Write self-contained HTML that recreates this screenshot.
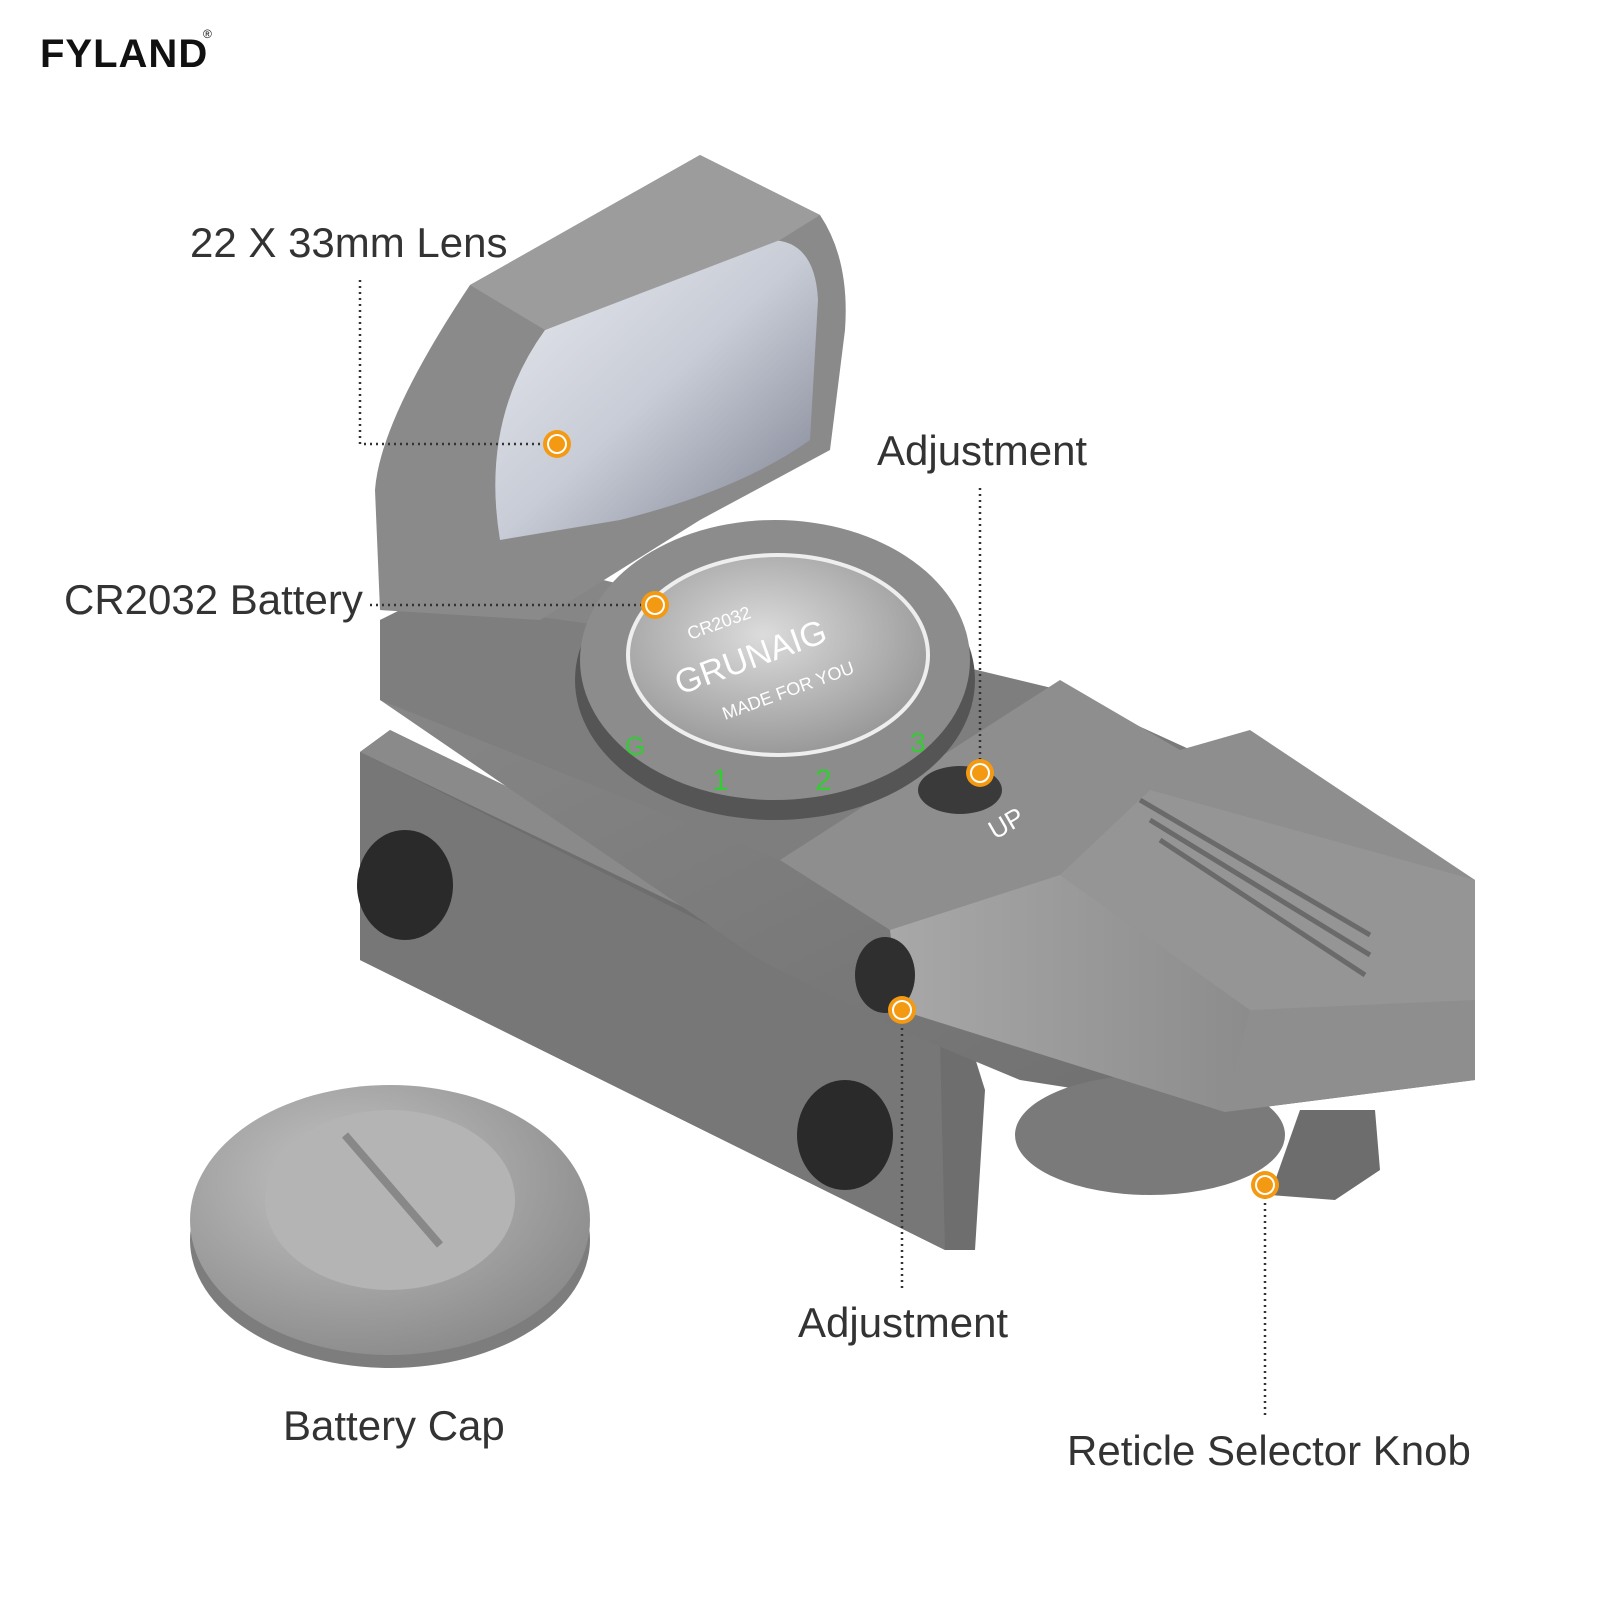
<!DOCTYPE html>
<html><head><meta charset="utf-8"><style>
html,body{margin:0;padding:0;background:#fff}
svg{display:block}
text{font-family:"Liberation Sans",sans-serif}
</style></head><body>
<svg width="1601" height="1601" viewBox="0 0 1601 1601" xmlns="http://www.w3.org/2000/svg">
<defs>
<linearGradient id="g1" x1="0" y1="0" x2="1" y2="1"><stop offset="0" stop-color="#8a8a8a"/><stop offset="1" stop-color="#6c6c6c"/></linearGradient>
<linearGradient id="g2" x1="0" y1="0" x2="1" y2="0"><stop offset="0" stop-color="#a8a8a8"/><stop offset="1" stop-color="#8c8c8c"/></linearGradient>
<radialGradient id="bat" cx="0.45" cy="0.4" r="0.7"><stop offset="0" stop-color="#dcdcdc"/><stop offset="1" stop-color="#8e8e8e"/></radialGradient>
<radialGradient id="cap" cx="0.4" cy="0.35" r="0.7"><stop offset="0" stop-color="#c4c4c4"/><stop offset="1" stop-color="#8a8a8a"/></radialGradient>
<linearGradient id="lens" x1="0" y1="0" x2="1" y2="1"><stop offset="0" stop-color="#e8eaef"/><stop offset="0.5" stop-color="#c8ccd6"/><stop offset="1" stop-color="#7c8090"/></linearGradient>
</defs>
<text x="40" y="67" font-size="40" font-weight="bold" fill="#111" letter-spacing="1">FYLAND</text>
<text x="203" y="38" font-size="12" fill="#111">®</text>

<polygon points="360,752 390,730 960,1010 985,1090 975,1250 945,1250 360,960" fill="#6e6e6e"/>
<polygon points="360,752 940,1040 945,1250 360,960" fill="#777"/>
<polygon points="390,730 990,1020 960,1040 360,752" fill="#8a8a8a"/>
<polygon points="380,620 520,560 1060,690 1475,880 1475,1080 1225,1112 1020,1080 900,1030 760,960 380,700" fill="url(#g1)"/>
<polygon points="380,620 420,600 1060,690 780,860 380,700" fill="#7e7e7e"/>
<ellipse cx="1150" cy="1135" rx="135" ry="60" fill="#7a7a7a"/>
<polygon points="1300,1110 1375,1110 1380,1170 1335,1200 1270,1195" fill="#6d6d6d"/>
<polygon points="780,860 1060,680 1180,750 1250,730 1475,880 1475,1080 1225,1112 900,1010 890,930" fill="#8e8e8e"/>
<polygon points="890,930 1060,875 1250,1010 1225,1112 900,1010" fill="url(#g2)"/>
<polygon points="1060,875 1150,790 1475,880 1475,1000 1250,1010" fill="#959595"/>
<line x1="1140" y1="800" x2="1370" y2="935" stroke="#6a6a6a" stroke-width="5"/>
<line x1="1150" y1="820" x2="1370" y2="955" stroke="#6a6a6a" stroke-width="5"/>
<line x1="1160" y1="840" x2="1365" y2="975" stroke="#6a6a6a" stroke-width="5"/>
<path d="M380,610 L375,490 Q380,420 470,285 L700,155 L820,215 Q850,260 845,330 L830,450 L700,520 L540,620 Z" fill="#8a8a8a"/>
<path d="M500,540 Q480,420 545,330 L770,240 Q815,240 818,300 L810,440 Q740,490 620,520 Z" fill="url(#lens)"/>
<path d="M470,285 L700,155 L820,215 L780,240 L545,330 Z" fill="#9c9c9c"/>
<ellipse cx="775" cy="680" rx="200" ry="140" fill="#555"/>
<ellipse cx="775" cy="660" rx="195" ry="140" fill="#8c8c8c"/>
<ellipse cx="778" cy="655" rx="150" ry="100" fill="url(#bat)" stroke="#eee" stroke-width="4"/>
<text x="690" y="640" font-size="18" fill="#fff" transform="rotate(-20 690 640)">CR2032</text>
<text x="680" y="695" font-size="34" fill="#fff" transform="rotate(-20 680 695)">GRUNAIG</text>
<text x="725" y="720" font-size="18" fill="#fff" transform="rotate(-20 725 720)">MADE FOR YOU</text>
<text x="625" y="755" font-size="26" fill="#3c3">G</text>
<text x="712" y="790" font-size="30" fill="#3c3">1</text>
<text x="815" y="790" font-size="30" fill="#3c3">2</text>
<text x="910" y="752" font-size="28" fill="#3c3">3</text>
<ellipse cx="960" cy="790" rx="42" ry="24" fill="#3a3a3a"/>
<ellipse cx="405" cy="885" rx="48" ry="55" fill="#2a2a2a"/>
<ellipse cx="845" cy="1135" rx="48" ry="55" fill="#2a2a2a"/>
<ellipse cx="885" cy="975" rx="30" ry="38" fill="#2f2f2f"/>
<text x="995" y="840" font-size="26" fill="#fff" transform="rotate(-30 995 840)">UP</text>
<ellipse cx="390" cy="1240" rx="200" ry="128" fill="#7d7d7d"/>
<ellipse cx="390" cy="1220" rx="200" ry="135" fill="url(#cap)"/>
<ellipse cx="390" cy="1200" rx="125" ry="90" fill="#b4b4b4"/>
<line x1="345" y1="1135" x2="440" y2="1245" stroke="#888" stroke-width="8"/>
<g stroke="#333" stroke-width="2.5" stroke-dasharray="2 4" fill="none">
<polyline points="360,280 360,444 557,444"/>
<line x1="370" y1="605" x2="655" y2="605"/>
<line x1="980" y1="488" x2="980" y2="773"/>
<line x1="902" y1="1010" x2="902" y2="1290"/>
<line x1="1265" y1="1185" x2="1265" y2="1415"/>
</g>
<g>
<g transform="translate(557,444)"><circle r="14" fill="#f39a12"/><circle r="10" fill="#fff"/><circle r="8" fill="#f39a12"/></g>
<g transform="translate(655,605)"><circle r="14" fill="#f39a12"/><circle r="10" fill="#fff"/><circle r="8" fill="#f39a12"/></g>
<g transform="translate(980,773)"><circle r="14" fill="#f39a12"/><circle r="10" fill="#fff"/><circle r="8" fill="#f39a12"/></g>
<g transform="translate(902,1010)"><circle r="14" fill="#f39a12"/><circle r="10" fill="#fff"/><circle r="8" fill="#f39a12"/></g>
<g transform="translate(1265,1185)"><circle r="14" fill="#f39a12"/><circle r="10" fill="#fff"/><circle r="8" fill="#f39a12"/></g>
</g>
<g font-size="42" fill="#333">
<text x="190" y="257">22 X 33mm Lens</text>
<text x="64" y="614">CR2032 Battery</text>
<text x="877" y="465">Adjustment</text>
<text x="798" y="1337">Adjustment</text>
<text x="283" y="1440">Battery Cap</text>
<text x="1067" y="1465">Reticle Selector Knob</text>
</g>
</svg>
</body></html>
